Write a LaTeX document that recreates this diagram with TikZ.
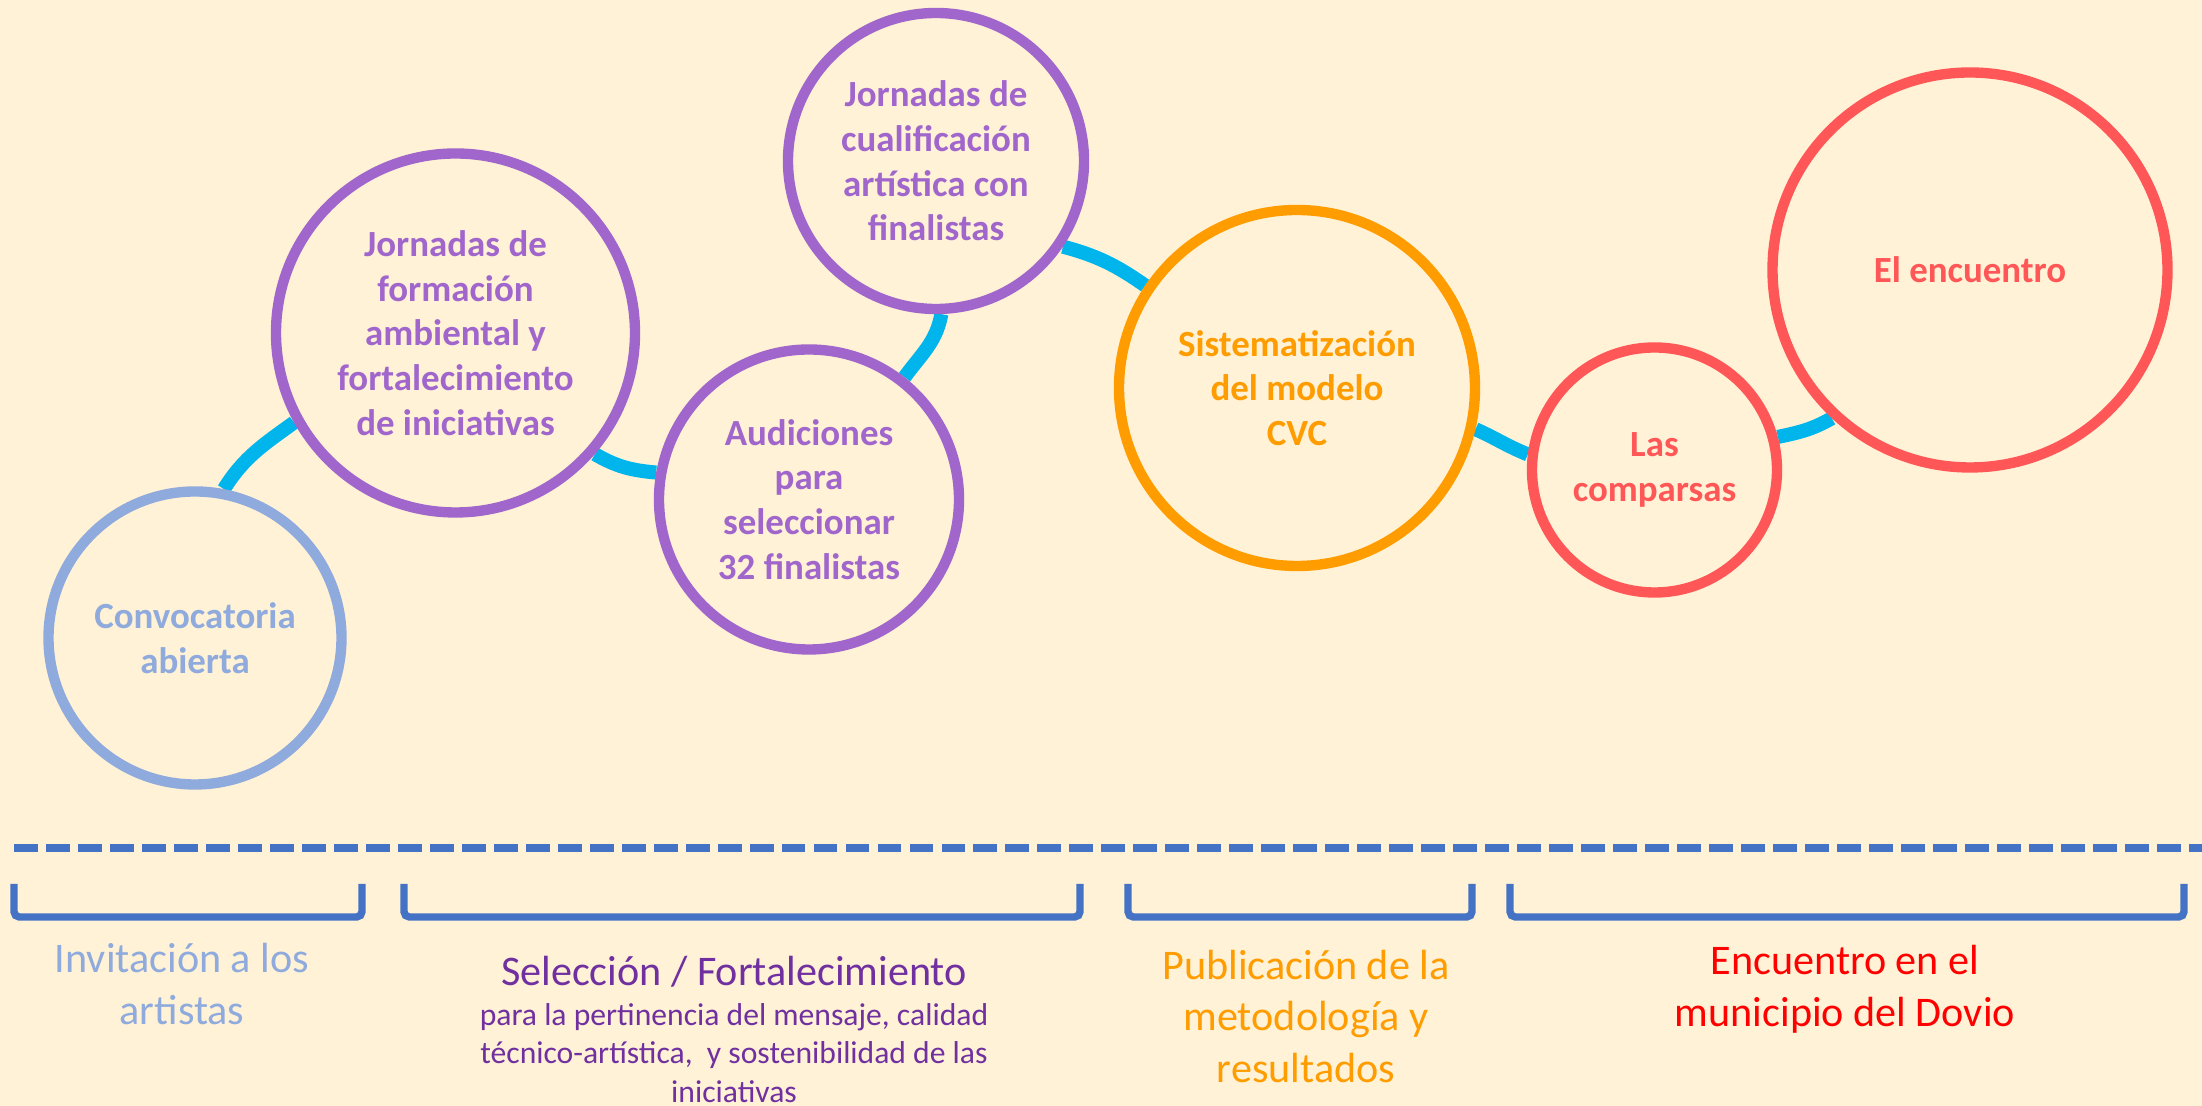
\documentclass[tikz,border=0pt]{standalone}
\usepackage{fontspec}
\setmainfont{Carlito}
\usetikzlibrary{positioning}

\definecolor{bgcream}{HTML}{FFF2D6}
\definecolor{linkcyan}{HTML}{00B5EC}
\definecolor{softblue}{HTML}{8FAADC}
\definecolor{stagepurple}{HTML}{A066CC}
\definecolor{deeppurple}{HTML}{7030A0}
\definecolor{stageorange}{HTML}{FF9C00}
\definecolor{stagered}{HTML}{FF5757}
\definecolor{pure red}{HTML}{FF0000}
\definecolor{barblue}{HTML}{4472C4}

\pgfdeclarelayer{bg}
\pgfdeclarelayer{links}
\pgfsetlayers{bg,links,main}

\tikzset{
  stage/.style={circle, line width=2.95pt, fill=bgcream, align=center, inner sep=0pt,
    font=\bfseries\fontsize{10.5}{12.7}\selectfont},
  link/.style={draw=linkcyan, line width=4pt},
  brace/.style={draw=barblue, line width=2.1pt, rounded corners=1.5pt},
  phase/.style={align=center, inner sep=0pt, font=\fontsize{12}{14.7}\selectfont}
}

\begin{document}
\begin{tikzpicture}
\useasboundingbox (0,0) rectangle (22.02,11.06);
\begin{pgfonlayer}{bg}
\fill[bgcream] (0,0) rectangle (22.02,11.06);
\end{pgfonlayer}

% the stages
\node[stage, draw=softblue, text=softblue, minimum size=2.93cm] (conv) at (1.95,4.68) {Convocatoria\\abierta};
\node[stage, draw=stagepurple, text=stagepurple, minimum size=3.59cm] (form) at (4.555,7.73) {Jornadas de\\formación\\ambiental y\\fortalecimiento\\de iniciativas};
\node[stage, draw=stagepurple, text=stagepurple, minimum size=3.0cm] (aud) at (8.09,6.065) {Audiciones\\para\\seleccionar\\32 finalistas};
\node[stage, draw=stagepurple, text=stagepurple, minimum size=2.96cm] (cual) at (9.36,9.45) {Jornadas de\\cualificación\\artística con\\finalistas};
\node[stage, draw=stageorange, text=stageorange, minimum size=3.56cm] (sist) at (12.97,7.18) {Sistematización\\del modelo\\CVC};
\node[stage, draw=stagered, text=stagered, minimum size=2.45cm] (comp) at (16.545,6.36) {Las\\comparsas};
\node[stage, draw=stagered, text=stagered, minimum size=3.95cm] (enc) at (19.70,8.36) {El encuentro};

\begin{pgfonlayer}{links}
\draw[link] (conv.79) to[out=58,in=216] (form.209);
\draw[link] (form.-41) to[out=-30,in=175] (aud.170);
\draw[link] (aud.52) to[out=54,in=-100] (cual.-88);
\draw[link] (cual.-34) to[out=-15,in=145] (sist.146);
\draw[link] (sist.-13) to[out=-24,in=158] (comp.173);
\draw[link] (comp.15) to[out=12,in=210] (enc.227);
\end{pgfonlayer}

% time line and phases
\draw[draw=barblue, line width=2.3pt, dash pattern=on 6.8pt off 2.3pt] (0.14,2.58) -- (22.02,2.58);
\draw[brace] (0.14,2.22) -- (0.14,1.89) -- (3.62,1.89) -- (3.62,2.22);
\draw[brace] (4.04,2.22) -- (4.04,1.89) -- (10.80,1.89) -- (10.80,2.22);
\draw[brace] (11.28,2.22) -- (11.28,1.89) -- (14.72,1.89) -- (14.72,2.22);
\draw[brace] (15.10,2.22) -- (15.10,1.89) -- (21.84,1.89) -- (21.84,2.22);

\node[phase, text=softblue] (invit) at (1.82,1.22) {Invitación a los\\artistas};
\node[phase, text=deeppurple] (selec) at (7.34,1.34) {Selección / Fortalecimiento};
\node[phase, text=deeppurple, font=\fontsize{9}{10.9}\selectfont] (selecsub) at (7.34,0.53) {para la pertinencia del mensaje, calidad\\técnico-artística,~ y sostenibilidad de las\\iniciativas};
\node[phase, text=stageorange] (publi) at (13.06,0.895) {Publicación de la\\metodología y\\resultados};
\node[phase, text=pure red] (encu) at (18.45,1.17) {Encuentro en el\\municipio del Dovio};
\end{tikzpicture}
\end{document}
